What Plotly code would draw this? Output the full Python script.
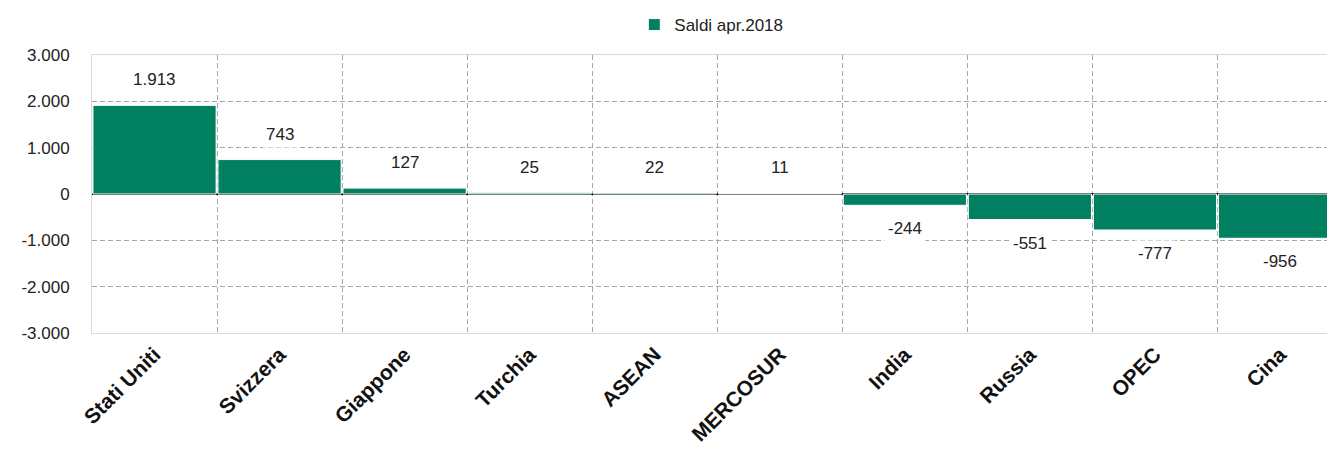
import plotly.graph_objects as go

categories = ["Stati Uniti", "Svizzera", "Giappone", "Turchia", "ASEAN",
              "MERCOSUR", "India", "Russia", "OPEC", "Cina"]
values = [1913, 743, 127, 25, 22, 11, -244, -551, -777, -956]
labels = ["1.913", "743", "127", "25", "22", "11", "-244", "-551", "-777", "-956"]
series_name = "Saldi apr.2018"
y_ticks = [3000, 2000, 1000, 0, -1000, -2000, -3000]
y_tick_text = ["3.000", "2.000", "1.000", "0", "-1.000", "-2.000", "-3.000"]

FONT = "Liberation Sans Narrow, Arial Narrow, Liberation Sans, Arial, sans-serif"
GREEN = "#008060"
DASH = "5px,3px"

fig = go.Figure()
fig.add_trace(go.Bar(
    x=categories, y=values, name=series_name,
    marker=dict(color=GREEN, line=dict(color="white", width=1)),
    showlegend=True,
))

for c, v, t in zip(categories, values, labels):
    fig.add_annotation(
        x=c, y=v, text=t, showarrow=False,
        yanchor="bottom" if v >= 0 else "top",
        yshift=12 if v >= 0 else -10,
        bgcolor="white", borderpad=3,
        font=dict(family=FONT, size=17, color="#222"),
    )

fig.update_layout(
    width=1327, height=442,
    margin=dict(l=84, r=0, t=47, b=117, autoexpand=False),
    paper_bgcolor="white", plot_bgcolor="white",
    bargap=0.015,
    font=dict(family=FONT, size=16, color="#222"),
    legend=dict(orientation="h", x=0.53, xanchor="center", xref="container",
                y=0.9615, yanchor="middle", yref="container",
                font=dict(family=FONT, size=17, color="#222")),
    showlegend=True,
)

fig.update_xaxes(
    type="category", range=[-0.5, 9.44], automargin=False,
    tickson="boundaries", showgrid=True, gridcolor="#a6a6a6", griddash=DASH, gridwidth=1,
    ticks="", tickangle=-45,
    tickfont=dict(family="Liberation Sans, Arial, sans-serif", size=21, color="#111", weight="bold"),
    showline=True, linecolor="#d9d9d9", linewidth=1, mirror=True,
)
fig.update_yaxes(
    range=[-3000, 3000], tickvals=y_ticks, ticktext=y_tick_text, automargin=False,
    showgrid=True, gridcolor="#a6a6a6", griddash=DASH, gridwidth=1,
    zeroline=True, zerolinecolor="black", zerolinewidth=2,
    showline=True, linecolor="#d9d9d9", linewidth=1, mirror=True,
    tickfont=dict(family=FONT, size=17, color="#222"),
    ticks="", ticklen=0, ticklabelstandoff=18,
)

fig.write_html("out.html")
